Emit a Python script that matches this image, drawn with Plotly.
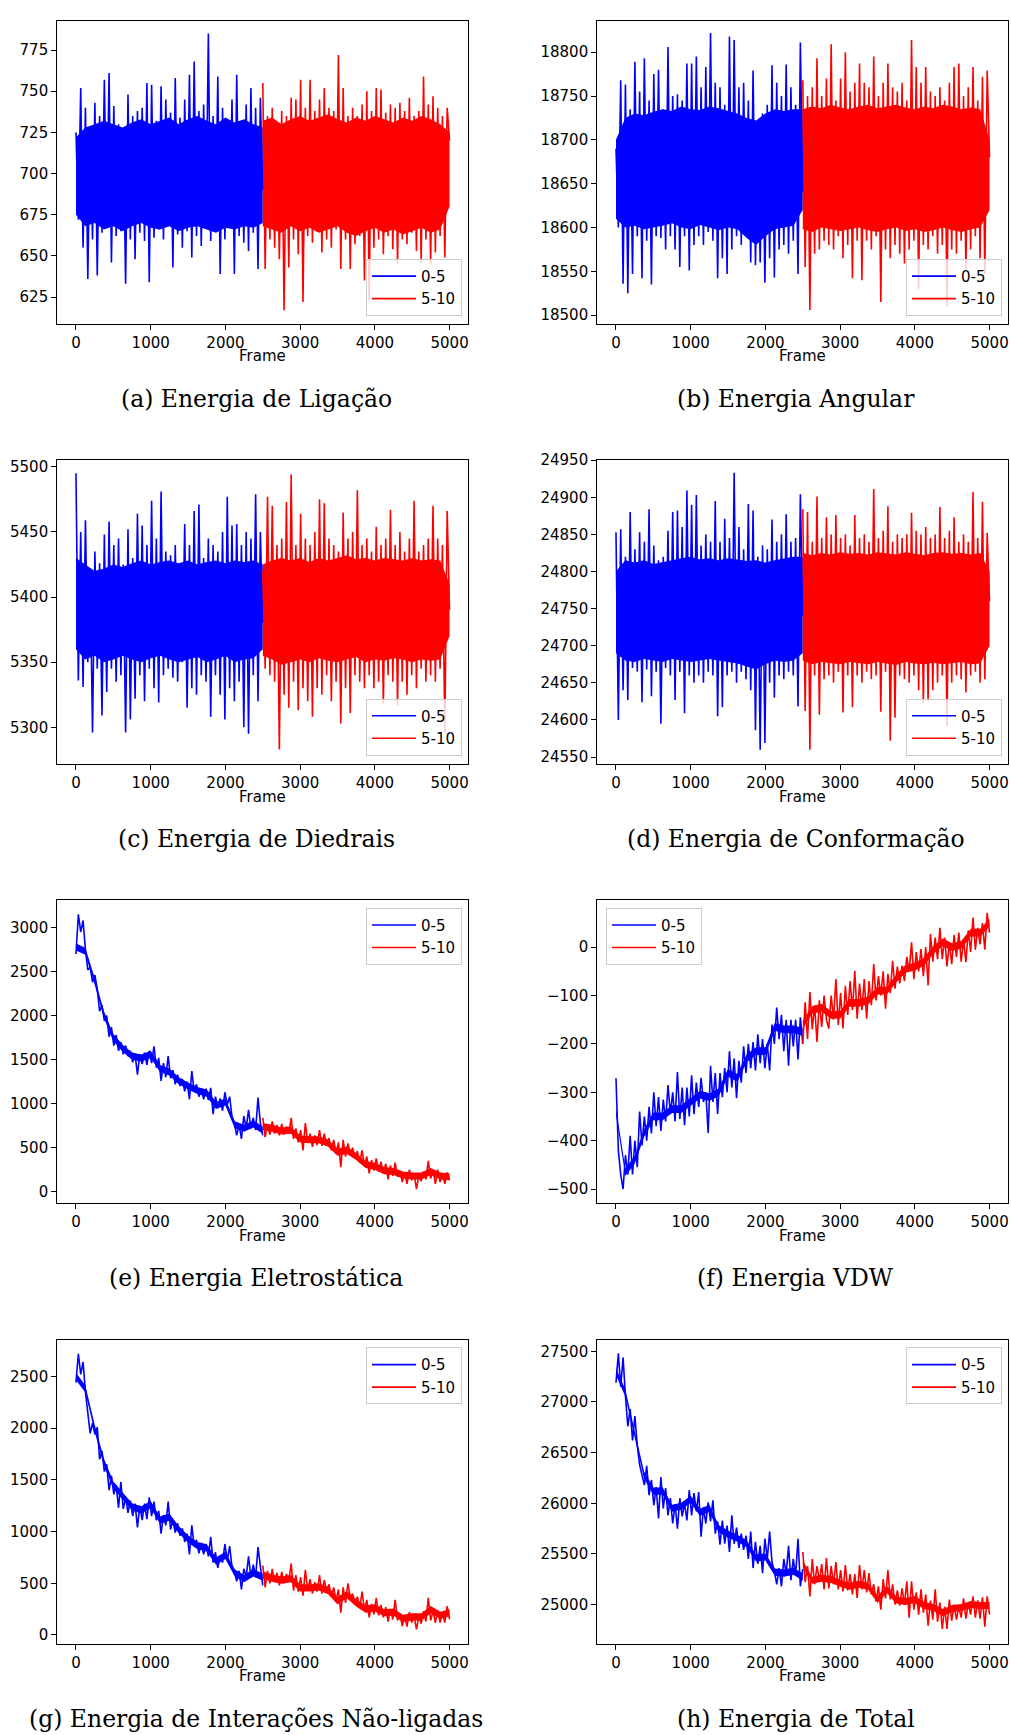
import numpy as np
import plotly.graph_objects as go

# ---------------- data ----------------
frames_first = np.linspace(0, 2499, 80)
frames_second = np.linspace(2500, 4999, 80)
core_frames_first = np.linspace(0, 2499, 21)
core_frames_second = np.linspace(2500, 4999, 21)

series_names = ["0-5", "5-10"]

# sampled traces (alternating upper / lower excursions)
ligacao_0_5 = [725, 672, 752, 655, 740, 636, 728, 660, 743, 638, 735, 664, 757, 668, 761, 646,
               741, 662, 730, 665, 727, 633, 748, 660, 735, 648, 738, 664, 740, 659, 755, 634,
               754, 661, 732, 666, 753, 660, 745, 668, 737, 643, 758, 663, 734, 655, 745, 665,
               760, 649, 768, 662, 738, 656, 742, 668, 785, 659, 735, 665, 759, 639, 740, 660,
               733, 667, 745, 639, 760, 662, 728, 658, 742, 653, 752, 664, 740, 642, 746, 690]
ligacao_5_10 = [755, 642, 735, 660, 740, 655, 730, 648, 738, 617, 735, 643, 746, 660, 745, 651,
                757, 622, 740, 662, 757, 658, 738, 665, 745, 652, 752, 660, 740, 655, 738, 666,
                772, 642, 752, 660, 735, 642, 740, 657, 735, 662, 742, 635, 750, 623, 738, 655,
                752, 660, 751, 651, 737, 662, 742, 654, 740, 645, 743, 660, 738, 657, 746, 664,
                735, 653, 738, 646, 759, 660, 742, 645, 747, 652, 740, 662, 735, 649, 740, 720]

angular_0_5 = [18690, 18600, 18768, 18536, 18763, 18525, 18735, 18547, 18789, 18590, 18755, 18542,
               18793, 18585, 18745, 18535, 18775, 18590, 18780, 18588, 18735, 18575, 18806, 18590,
               18750, 18575, 18752, 18555, 18745, 18590, 18787, 18551, 18787, 18580, 18795, 18590,
               18760, 18580, 18783, 18595, 18822, 18585, 18765, 18542, 18760, 18565, 18740, 18547,
               18818, 18575, 18814, 18590, 18760, 18580, 18765, 18595, 18745, 18560, 18779, 18557,
               18720, 18560, 18730, 18537, 18740, 18565, 18785, 18543, 18765, 18575, 18750, 18580,
               18786, 18570, 18760, 18585, 18740, 18547, 18811, 18640]
angular_5_10 = [18768, 18555, 18750, 18506, 18760, 18570, 18793, 18575, 18750, 18585, 18770, 18580,
                18809, 18575, 18745, 18590, 18770, 18565, 18800, 18580, 18755, 18542, 18765, 18585,
                18787, 18540, 18765, 18585, 18760, 18575, 18795, 18590, 18750, 18515, 18765, 18575,
                18787, 18565, 18760, 18580, 18755, 18570, 18765, 18559, 18745, 18575, 18814, 18585,
                18783, 18530, 18765, 18580, 18783, 18575, 18755, 18590, 18750, 18570, 18760, 18580,
                18745, 18510, 18765, 18575, 18783, 18570, 18787, 18585, 18750, 18551, 18760, 18575,
                18783, 18590, 18745, 18565, 18772, 18547, 18779, 18680]

diedrais_0_5 = [5495, 5336, 5450, 5331, 5459, 5350, 5420, 5296, 5435, 5345, 5426, 5309, 5448, 5327,
                5458, 5345, 5440, 5335, 5445, 5340, 5425, 5296, 5452, 5306, 5430, 5322, 5464, 5340,
                5455, 5320, 5440, 5345, 5474, 5330, 5445, 5319, 5481, 5340, 5435, 5345, 5432, 5338,
                5440, 5335, 5425, 5350, 5456, 5315, 5440, 5330, 5466, 5325, 5471, 5340, 5430, 5335,
                5445, 5308, 5440, 5340, 5435, 5325, 5450, 5306, 5477, 5330, 5455, 5320, 5456, 5335,
                5440, 5300, 5450, 5295, 5445, 5340, 5479, 5320, 5450, 5380]
diedrais_5_10 = [5420, 5345, 5477, 5340, 5470, 5335, 5440, 5283, 5445, 5325, 5473, 5315, 5494, 5335,
                 5440, 5313, 5464, 5330, 5445, 5320, 5440, 5308, 5450, 5330, 5475, 5325, 5472, 5340,
                 5445, 5320, 5440, 5335, 5435, 5303, 5465, 5330, 5445, 5311, 5450, 5340, 5482, 5335,
                 5440, 5330, 5445, 5340, 5435, 5330, 5454, 5335, 5440, 5318, 5445, 5340, 5467, 5335,
                 5440, 5317, 5450, 5335, 5435, 5325, 5445, 5340, 5474, 5330, 5435, 5345, 5440, 5335,
                 5445, 5340, 5470, 5335, 5445, 5345, 5440, 5296, 5466, 5390]

conformacao_0_5 = [24853, 24600, 24857, 24640, 24820, 24627, 24880, 24670, 24830, 24665, 24853, 24624,
                   24840, 24668, 24884, 24632, 24835, 24665, 24815, 24595, 24820, 24670, 24855, 24660,
                   24880, 24627, 24882, 24665, 24860, 24609, 24909, 24660, 24890, 24650, 24903, 24660,
                   24835, 24650, 24850, 24665, 24840, 24660, 24895, 24605, 24840, 24617, 24871, 24660,
                   24845, 24665, 24933, 24650, 24860, 24665, 24830, 24655, 24891, 24640, 24882, 24586,
                   24820, 24560, 24835, 24569, 24830, 24650, 24870, 24630, 24840, 24660, 24850, 24655,
                   24877, 24665, 24840, 24660, 24845, 24618, 24904, 24740]
conformacao_5_10 = [24884, 24612, 24880, 24560, 24840, 24660, 24901, 24607, 24845, 24655, 24873, 24660,
                    24850, 24650, 24876, 24665, 24845, 24610, 24850, 24660, 24835, 24617, 24876, 24660,
                    24845, 24650, 24850, 24665, 24840, 24655, 24911, 24660, 24845, 24611, 24855, 24665,
                    24888, 24572, 24840, 24603, 24850, 24660, 24845, 24655, 24850, 24650, 24879, 24660,
                    24855, 24640, 24850, 24623, 24860, 24625, 24845, 24640, 24850, 24650, 24887, 24660,
                    24845, 24592, 24855, 24650, 24873, 24660, 24840, 24655, 24850, 24637, 24840, 24660,
                    24907, 24665, 24845, 24650, 24894, 24655, 24852, 24760]

eletrostatica_0_5 = [2700, 3150, 2950, 3080, 2750, 2520, 2550, 2380, 2460, 2300, 2050, 2120, 1940, 2000,
                     1760, 1870, 1660, 1780, 1600, 1700, 1560, 1660, 1540, 1600, 1470, 1560, 1330, 1560,
                     1450, 1580, 1440, 1600, 1460, 1650, 1410, 1520, 1260, 1460, 1300, 1540, 1290, 1380,
                     1220, 1330, 1200, 1280, 1140, 1250, 1050, 1370, 1140, 1220, 1080, 1170, 1050, 1170,
                     1040, 1180, 880, 1080, 950, 1060, 920, 1130, 990, 1080, 850, 780, 640, 760, 600, 860,
                     720, 930, 720, 840, 700, 1070, 780, 640]
eletrostatica_5_10 = [840, 620, 760, 650, 800, 660, 760, 640, 770, 650, 740, 660, 840, 600, 720, 560, 700,
                      470, 780, 560, 660, 510, 640, 530, 700, 520, 660, 540, 610, 470, 590, 430, 560, 280,
                      590, 400, 550, 430, 500, 380, 460, 330, 470, 300, 400, 210, 360, 240, 380, 230, 340,
                      210, 320, 140, 300, 180, 330, 170, 240, 110, 220, 90, 250, 130, 200, 30, 190, 120,
                      230, 140, 350, 150, 240, 90, 250, 110, 200, 90, 220, 130]

vdw_0_5 = [-271, -420, -470, -500, -430, -470, -390, -470, -400, -455, -340, -410, -350, -400, -330,
           -385, -300, -370, -310, -380, -315, -360, -285, -345, -300, -360, -258, -355, -290, -368,
           -290, -350, -265, -345, -280, -330, -270, -320, -300, -384, -245, -320, -260, -345, -260,
           -310, -250, -300, -215, -290, -230, -312, -235, -280, -205, -260, -200, -250, -196, -255,
           -180, -240, -190, -250, -200, -255, -160, -200, -125, -190, -140, -215, -150, -245, -150,
           -205, -150, -232, -145, -200]
vdw_5_10 = [-200, -114, -190, -93, -170, -120, -196, -110, -165, -100, -150, -168, -100, -150, -66,
            -161, -95, -168, -80, -140, -70, -130, -49, -148, -75, -130, -66, -148, -70, -120, -35,
            -110, -60, -100, -50, -127, -55, -95, -28, -86, -40, -75, -38, -70, -20, -50, 10, -66,
            -10, -50, -4, -60, 0, -79, 27, -30, 20, -25, 40, -25, 20, -40, 10, -35, 25, -20, 30, -30,
            15, -31, 35, -10, 61, -5, 40, 6, 50, -5, 71, 30]

nao_ligadas_0_5 = [2440, 2720, 2520, 2640, 2350, 2150, 1950, 2050, 1940, 2010, 1700, 1780, 1580, 1650,
                   1400, 1540, 1360, 1450, 1230, 1480, 1220, 1330, 1180, 1300, 1150, 1270, 1040, 1250,
                   1110, 1270, 1120, 1330, 1150, 1290, 1110, 1200, 980, 1160, 1060, 1290, 1020, 1110,
                   990, 1080, 960, 1030, 900, 980, 780, 1060, 860, 920, 790, 890, 780, 880, 760, 950,
                   700, 800, 650, 770, 700, 880, 720, 860, 660, 620, 520, 620, 440, 640, 560, 760, 560,
                   680, 560, 850, 640, 480]
nao_ligadas_5_10 = [670, 460, 620, 500, 640, 510, 600, 480, 610, 500, 590, 520, 690, 430, 580, 420, 560,
                    380, 630, 430, 540, 400, 510, 420, 580, 400, 530, 430, 490, 370, 460, 330, 440, 215,
                    460, 310, 500, 360, 400, 300, 370, 260, 420, 240, 340, 170, 300, 200, 360, 190, 290,
                    170, 270, 130, 250, 150, 340, 140, 210, 86, 190, 80, 220, 120, 180, 54, 180, 110,
                    230, 130, 360, 140, 230, 118, 240, 120, 210, 120, 278, 150]

total_0_5 = [27190, 27480, 27150, 27440, 27060, 26760, 26930, 26620, 26860, 26570, 26380, 26280,
             26180, 26370, 26080, 26230, 25980, 26160, 25850, 26260, 25950, 26150, 25880, 26050,
             25800, 25990, 25750, 26050, 25870, 26000, 25830, 26130, 25880, 26100, 25920, 26110,
             25670, 25960, 25800, 26010, 25820, 26030, 25700, 25820, 25590, 25830, 25600, 25780,
             25520, 25880, 25600, 25760, 25560, 25700, 25540, 25680, 25450, 25720, 25360, 25620,
             25400, 25580, 25310, 25650, 25450, 25720, 25420, 25330, 25200, 25360, 25180, 25450,
             25300, 25580, 25240, 25450, 25290, 25650, 25180, 25350]
total_5_10 = [25520, 25220, 25380, 25080, 25450, 25200, 25380, 25230, 25400, 25150, 25460, 25160,
              25380, 25200, 25420, 25150, 25340, 25130, 25390, 25140, 25300, 25100, 25300, 25065,
              25390, 25150, 25340, 25120, 25310, 25100, 25200, 25030, 25180, 24950, 25250, 25060,
              25340, 25050, 25200, 25000, 25140, 24990, 25160, 25000, 25230, 24870, 25230, 24950,
              25120, 24900, 25150, 24920, 25100, 24790, 25040, 24850, 25150, 24830, 25020, 24760,
              24980, 24760, 25050, 24840, 25000, 24850, 24980, 24870, 25060, 24860, 25010, 24900,
              25080, 24870, 25040, 24860, 25070, 24780, 25080, 24900]

# dense core of each band (where the many frames overlap into solid colour): lower / upper edge
ligacao_0_5_lo = [675, 668, 670, 666, 668, 665, 668, 670, 667, 666, 668, 665, 667, 668, 666, 664, 667, 666, 668, 667, 670]
ligacao_0_5_hi = [722, 728, 730, 732, 730, 728, 731, 733, 730, 732, 734, 730, 733, 735, 732, 730, 734, 731, 733, 730, 728]
ligacao_5_10_lo = [668, 666, 664, 668, 665, 667, 664, 666, 668, 664, 662, 665, 667, 664, 666, 663, 665, 667, 664, 666, 680]
ligacao_5_10_hi = [732, 734, 730, 733, 735, 732, 734, 736, 733, 731, 734, 732, 735, 733, 731, 734, 732, 735, 733, 730, 725]

angular_0_5_lo = [18610, 18600, 18602, 18598, 18600, 18602, 18605, 18600, 18598, 18603, 18600, 18597, 18600, 18598, 18588, 18580, 18590, 18598, 18600, 18602, 18620]
angular_0_5_hi = [18700, 18725, 18730, 18728, 18732, 18735, 18733, 18738, 18735, 18734, 18738, 18736, 18733, 18730, 18725, 18722, 18730, 18735, 18733, 18735, 18735]
angular_5_10_lo = [18598, 18595, 18600, 18598, 18596, 18598, 18600, 18597, 18595, 18598, 18600, 18596, 18598, 18595, 18597, 18600, 18597, 18595, 18598, 18600, 18620]
angular_5_10_hi = [18735, 18738, 18736, 18740, 18737, 18735, 18738, 18740, 18736, 18738, 18740, 18737, 18735, 18738, 18736, 18740, 18738, 18735, 18737, 18735, 18700]

diedrais_0_5_lo = [5360, 5352, 5355, 5350, 5352, 5355, 5352, 5350, 5353, 5355, 5352, 5350, 5352, 5354, 5350, 5352, 5355, 5350, 5352, 5353, 5360]
diedrais_0_5_hi = [5430, 5425, 5420, 5422, 5425, 5423, 5426, 5428, 5425, 5427, 5428, 5426, 5428, 5425, 5427, 5428, 5426, 5428, 5427, 5428, 5425]
diedrais_5_10_lo = [5355, 5352, 5348, 5350, 5352, 5350, 5353, 5351, 5350, 5352, 5354, 5350, 5352, 5351, 5353, 5352, 5350, 5352, 5351, 5352, 5370]
diedrais_5_10_hi = [5425, 5428, 5430, 5428, 5430, 5427, 5430, 5428, 5430, 5432, 5429, 5430, 5428, 5430, 5429, 5428, 5430, 5428, 5429, 5428, 5410]

conformacao_0_5_lo = [24690, 24680, 24678, 24682, 24680, 24678, 24682, 24680, 24678, 24680, 24682, 24680, 24678, 24676, 24672, 24668, 24675, 24680, 24678, 24680, 24690]
conformacao_0_5_hi = [24800, 24815, 24812, 24815, 24810, 24812, 24815, 24818, 24820, 24816, 24818, 24815, 24818, 24816, 24814, 24815, 24812, 24815, 24818, 24820, 24820]
conformacao_5_10_lo = [24680, 24675, 24678, 24676, 24675, 24678, 24676, 24675, 24678, 24676, 24674, 24678, 24676, 24675, 24677, 24675, 24676, 24678, 24675, 24676, 24700]
conformacao_5_10_hi = [24825, 24822, 24825, 24823, 24826, 24824, 24825, 24823, 24826, 24825, 24823, 24826, 24824, 24822, 24825, 24826, 24824, 24825, 24823, 24825, 24800]

eletrostatica_0_5_lo = [2740, 2690, 2350, 1970, 1710, 1590, 1500, 1480, 1520, 1360, 1320, 1220, 1160, 1110, 1080, 940, 980, 720, 680, 730, 660]
eletrostatica_0_5_hi = [2820, 2770, 2430, 2050, 1790, 1670, 1580, 1560, 1600, 1440, 1400, 1300, 1240, 1190, 1160, 1020, 1060, 800, 760, 810, 740]
eletrostatica_5_10_lo = [700, 680, 650, 660, 560, 550, 550, 510, 410, 430, 360, 270, 250, 200, 190, 150, 140, 140, 190, 140, 130]
eletrostatica_5_10_hi = [780, 760, 730, 740, 640, 630, 630, 590, 490, 510, 440, 350, 330, 280, 270, 230, 220, 220, 270, 220, 210]

vdw_0_5_lo = [-348, -473, -448, -393, -358, -358, -343, -343, -328, -313, -318, -308, -268, -278, -238, -223, -223, -173, -178, -178, -183]
vdw_0_5_hi = [-332, -457, -432, -377, -342, -342, -327, -327, -312, -297, -302, -292, -252, -262, -222, -207, -207, -157, -162, -162, -167]
vdw_5_10_lo = [-168, -138, -133, -148, -148, -123, -123, -118, -98, -98, -73, -53, -48, -38, -13, 2, -8, -3, 22, 22, 42]
vdw_5_10_hi = [-152, -122, -117, -132, -132, -107, -107, -102, -82, -82, -57, -37, -32, -22, 3, 18, 8, 13, 38, 38, 58]

nao_ligadas_0_5_lo = [2465, 2345, 1965, 1635, 1415, 1305, 1205, 1175, 1225, 1075, 1105, 985, 895, 830, 807, 680, 735, 565, 510, 565, 525]
nao_ligadas_0_5_hi = [2535, 2415, 2035, 1705, 1485, 1375, 1275, 1245, 1295, 1145, 1175, 1055, 965, 900, 877, 750, 805, 635, 580, 635, 595]
nao_ligadas_5_10_lo = [545, 515, 495, 510, 420, 420, 430, 395, 295, 355, 275, 215, 227, 180, 185, 125, 140, 140, 210, 155, 180]
nao_ligadas_5_10_hi = [615, 585, 565, 580, 490, 490, 500, 465, 365, 425, 345, 285, 297, 250, 255, 195, 210, 210, 280, 225, 250]

total_0_5_lo = [27265, 27055, 26645, 26245, 26085, 26085, 25915, 25935, 26005, 25875, 25915, 25715, 25660, 25620, 25565, 25425, 25435, 25285, 25275, 25295, 25235]
total_0_5_hi = [27335, 27125, 26715, 26315, 26155, 26155, 25985, 26005, 26075, 25945, 25985, 25785, 25730, 25690, 25635, 25495, 25505, 25355, 25345, 25365, 25305]
total_5_10_lo = [25365, 25205, 25225, 25215, 25175, 25145, 25165, 25145, 25015, 25115, 25010, 24995, 25015, 24955, 24935, 24885, 24925, 24935, 24965, 24955, 24955]
total_5_10_hi = [25435, 25275, 25295, 25285, 25245, 25215, 25235, 25215, 25085, 25185, 25080, 25065, 25085, 25025, 25005, 24955, 24995, 25005, 25035, 25025, 25025]

captions = ["(a) Energia de Ligação", "(b) Energia Angular", "(c) Energia de Diedrais",
            "(d) Energia de Conformação", "(e) Energia Eletrostática", "(f) Energia VDW",
            "(g) Energia de Interações Não-ligadas", "(h) Energia de Total"]
x_title = "Frame"

panel_series = [(ligacao_0_5, ligacao_5_10), (angular_0_5, angular_5_10),
                (diedrais_0_5, diedrais_5_10), (conformacao_0_5, conformacao_5_10),
                (eletrostatica_0_5, eletrostatica_5_10), (vdw_0_5, vdw_5_10),
                (nao_ligadas_0_5, nao_ligadas_5_10), (total_0_5, total_5_10)]
panel_cores = [((ligacao_0_5_lo, ligacao_0_5_hi), (ligacao_5_10_lo, ligacao_5_10_hi)),
               ((angular_0_5_lo, angular_0_5_hi), (angular_5_10_lo, angular_5_10_hi)),
               ((diedrais_0_5_lo, diedrais_0_5_hi), (diedrais_5_10_lo, diedrais_5_10_hi)),
               ((conformacao_0_5_lo, conformacao_0_5_hi), (conformacao_5_10_lo, conformacao_5_10_hi)),
               ((eletrostatica_0_5_lo, eletrostatica_0_5_hi), (eletrostatica_5_10_lo, eletrostatica_5_10_hi)),
               ((vdw_0_5_lo, vdw_0_5_hi), (vdw_5_10_lo, vdw_5_10_hi)),
               ((nao_ligadas_0_5_lo, nao_ligadas_0_5_hi), (nao_ligadas_5_10_lo, nao_ligadas_5_10_hi)),
               ((total_0_5_lo, total_0_5_hi), (total_5_10_lo, total_5_10_hi))]

x_ticks = [0, 1000, 2000, 3000, 4000, 5000]
y_ticks = [[625, 650, 675, 700, 725, 750, 775],
           [18500, 18550, 18600, 18650, 18700, 18750, 18800],
           [5300, 5350, 5400, 5450, 5500],
           [24550, 24600, 24650, 24700, 24750, 24800, 24850, 24900, 24950],
           [0, 500, 1000, 1500, 2000, 2500, 3000],
           [-500, -400, -300, -200, -100, 0],
           [0, 500, 1000, 1500, 2000, 2500],
           [25000, 25500, 26000, 26500, 27000, 27500]]

# ---------------- layout / style ----------------
W, H = 1011, 1735
col_px = [(57.3, 468.3), (597.3, 1008.3)]
row_px = [(11.7, 316.7), (454.3, 760.0), (897.3, 1202.7), (1340.7, 1646.0)]
y_ranges = [(608.9, 792.9), (18490.5, 18836), (5272, 5505.1), (24541, 24950),
            (-132, 3312), (-529.6, 97.3), (-83.5, 2848.6), (24614, 27608)]
legend_pos = [  # (x_px, y_px, xanchor, yanchor)
    (462, 309, "right", "bottom"), (1002, 309, "right", "bottom"),
    (462, 751.7, "right", "bottom"), (1002, 751.7, "right", "bottom"),
    (462, 905, "right", "top"), (606, 905, "left", "top"),
    (462, 1347.7, "right", "top"), (1002, 1347.7, "right", "top")]
caption_y_px = [392.7, 835.3, 1278.3, 1721.5]
caption_x_px = [256, 795.5]
xtitle_offset_px = 33

colors = ["#0000ff", "#ff0000"]
tick_font = dict(family="DejaVu Sans", size=15, color="black")

fig = go.Figure()
layout = dict(width=W, height=H, margin=dict(l=0, r=0, t=0, b=0), autosize=False,
              paper_bgcolor="white", plot_bgcolor="white", showlegend=True, annotations=[])

for p in range(8):
    r, c = divmod(p, 2)
    sfx = "" if p == 0 else str(p + 1)
    xa, ya = "x" + sfx, "y" + sfx
    leg = "legend" + sfx
    blue, red = panel_series[p]
    cores = panel_cores[p]
    for k, cf in enumerate([core_frames_first, core_frames_second]):
        lo, hi = cores[k]
        fig.add_trace(go.Scatter(x=list(cf) + list(cf[::-1]), y=list(hi) + list(lo[::-1]),
                                 mode="lines", fill="toself", fillcolor=colors[k],
                                 line=dict(width=0, color=colors[k]), hoverinfo="skip",
                                 showlegend=False, xaxis=xa, yaxis=ya, legend=leg))
    fig.add_trace(go.Scatter(x=frames_first, y=blue, mode="lines", name=series_names[0],
                             line=dict(color=colors[0], width=1.6), xaxis=xa, yaxis=ya, legend=leg))
    fig.add_trace(go.Scatter(x=frames_second, y=red, mode="lines", name=series_names[1],
                             line=dict(color=colors[1], width=1.6), xaxis=xa, yaxis=ya, legend=leg))
    x0, x1 = col_px[c]
    y0, y1 = row_px[r]
    common = dict(showline=True, linecolor="black", linewidth=1.2, mirror=True, ticks="outside",
                  ticklen=5, tickwidth=1.2, tickcolor="black", showgrid=False, zeroline=False,
                  tickfont=tick_font)
    layout["xaxis" + sfx] = dict(domain=[x0 / W, x1 / W], anchor=ya, range=[-250, 5250],
                                 tickvals=x_ticks, ticktext=[str(v) for v in x_ticks], **common)
    layout["yaxis" + sfx] = dict(domain=[1 - y1 / H, 1 - y0 / H], anchor=xa, range=list(y_ranges[p]),
                                 tickvals=y_ticks[p],
                                 ticktext=[str(v).replace("-", "\u2212") for v in y_ticks[p]],
                                 **common)
    lx, ly, xan, yan = legend_pos[p]
    layout[leg] = dict(x=lx / W, y=1 - ly / H, xanchor=xan, yanchor=yan, xref="paper", yref="paper",
                       bgcolor="rgba(255,255,255,0.8)", bordercolor="#cccccc", borderwidth=1,
                       font=dict(family="DejaVu Sans", size=15, color="black"),
                       tracegroupgap=0, itemwidth=44)
    layout["annotations"].append(dict(text=x_title, x=(x0 + x1) / 2 / W,
                                      y=1 - (y1 + xtitle_offset_px) / H,
                                      xref="paper", yref="paper", xanchor="center", yanchor="middle",
                                      showarrow=False, font=tick_font))
    layout["annotations"].append(dict(text=captions[p], x=caption_x_px[c] / W, y=1 - caption_y_px[r] / H,
                                      xref="paper", yref="paper", xanchor="center", yanchor="middle",
                                      showarrow=False,
                                      font=dict(family="DejaVu Serif", size=23.5, color="black")))

fig.update_layout(**layout)
fig.write_html("out.html")
